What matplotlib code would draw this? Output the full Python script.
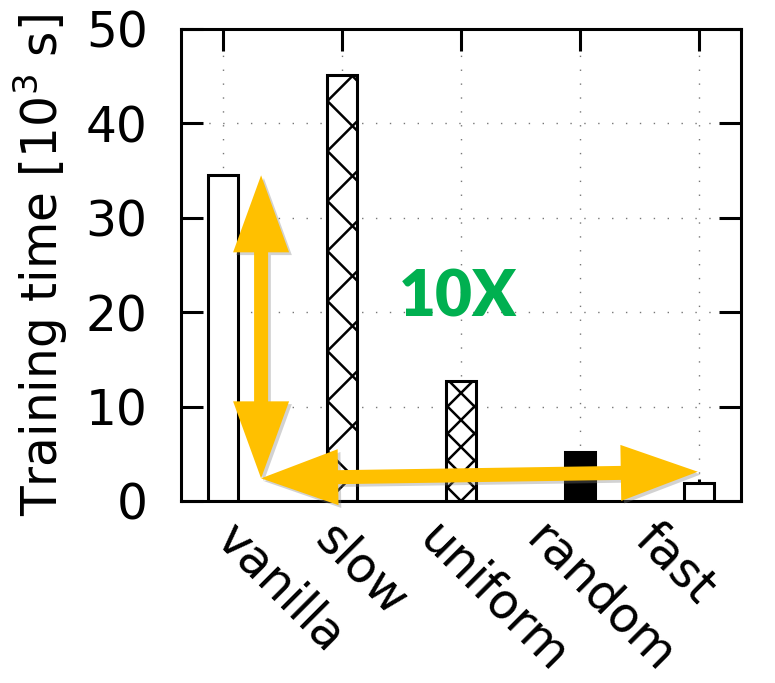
import numpy as np
import matplotlib
matplotlib.use("Agg")
import matplotlib.pyplot as plt
from matplotlib.patches import Polygon
import matplotlib.patheffects as pe

# training time per schedule, in 10^3 s
methods = ["vanilla", "slow", "uniform", "random", "fast"]
times = [34.5, 45.1, 12.7, 5.2, 1.9]
yticks = [0, 10, 20, 30, 40, 50]

# fill / hatch pitch (px) for each bar, None = plain
faces = ["white", "white", "white", "black", "white"]
hatch_pitch = [None, 50, 27, None, None]

# sideways shift of the rotated category labels (data units)
label_shift = [-0.14, -0.31, -0.43, -0.53, -0.61]

plt.rcParams["font.family"] = ["DejaVu Sans"]
FS = 35

fig = plt.figure(figsize=(7.75, 6.83), dpi=100)
ax = fig.add_axes([181 / 775, 1 - 501 / 683, 560 / 775, 472 / 683])
x = np.arange(len(methods))
ax.set_xlim(-0.353, len(methods) - 1 + 0.353)
ax.set_ylim(0, 50)
ax.set_axisbelow(True)

bars = ax.bar(x, times, width=0.245, color=faces, edgecolor="none", zorder=1)


def cross_hatch(bar, pitch, anchor):
    # 45 degree cross lines in pixel space, clipped to the bar
    to_px = ax.transData
    to_data = ax.transData.inverted()
    (x0, y0), (x1, y1) = to_px.transform([[bar.get_x(), 0],
                                          [bar.get_x() + bar.get_width(), bar.get_height()]])
    ax0 = x0 if anchor == "left" else 0.5 * (x0 + x1)
    n = int((y1 - y0 + x1 - x0) / pitch) + 3
    for k in range(-n, n + 1):
        for s in (1, -1):
            xs = np.array([x0 - 5, x1 + 5])
            ys = y0 + s * (xs - ax0) + k * pitch
            pts = to_data.transform(np.column_stack([xs, ys]))
            ln, = ax.plot(pts[:, 0], pts[:, 1], color="black", lw=1.8,
                          solid_capstyle="butt", zorder=1.5)
            ln.set_clip_path(bar)


for b, p in zip(bars, hatch_pitch):
    if p is not None:
        cross_hatch(b, p, "left" if p > 40 else "center")

ax.bar(x, times, width=0.245, fill=False, edgecolor="black", linewidth=2.2, zorder=2)

# axes styling: mirrored inward ticks, dotted grid
ax.set_yticks(yticks)
ax.set_xticks(x)
ax.set_xticklabels([])
ax.tick_params(axis="both", direction="in", length=16, width=2.2, color="black",
               top=True, right=True, labelsize=FS)
ax.tick_params(axis="y", pad=24)
for sp in ax.spines.values():
    sp.set_linewidth(2.2)
ax.grid(True, color="#777777", linestyle=(0, (1, 9)), linewidth=1.0)

for i, name in enumerate(methods):
    ax.text(i + label_shift[i], -0.03, name, transform=ax.get_xaxis_transform(),
            rotation=-45, ha="left", va="top", fontsize=FS)

ax.set_ylabel("Training time [10$^3$ s]", fontsize=FS)
ax.yaxis.set_label_coords(-0.198, 0.5)


def double_arrow(p0, p1, shaft=14, head_len=77, head_w=56):
    # two-headed arrow polygon built in pixels, stored in data coords
    a, b = ax.transData.transform([p0, p1])
    d = b - a
    L = np.hypot(*d)
    u = d / L
    n = np.array([-u[1], u[0]])
    hs, hw = shaft / 2, head_w / 2
    pts = [a,
           a + u * head_len + n * hw,
           a + u * head_len + n * hs,
           b - u * head_len + n * hs,
           b - u * head_len + n * hw,
           b,
           b - u * head_len - n * hw,
           b - u * head_len - n * hs,
           a + u * head_len - n * hs,
           a + u * head_len - n * hw]
    poly = Polygon(ax.transData.inverted().transform(pts), closed=True,
                   facecolor="#FFC000", edgecolor="none", zorder=5, clip_on=False)
    poly.set_path_effects([pe.SimplePatchShadow(offset=(2, -2), shadow_rgbFace="#808080", alpha=0.35),
                           pe.Normal()])
    ax.add_patch(poly)


corner = (0.32, 2.4)
double_arrow((0.32, times[0]), corner)
double_arrow(corner, (3.99, 3.1))

ax.text(1.97, 19.5, "10X", color="#00B050", fontsize=46, fontweight="heavy",
        family="Lato", ha="center", va="baseline", zorder=6)

fig.savefig("out.png", dpi=100)
